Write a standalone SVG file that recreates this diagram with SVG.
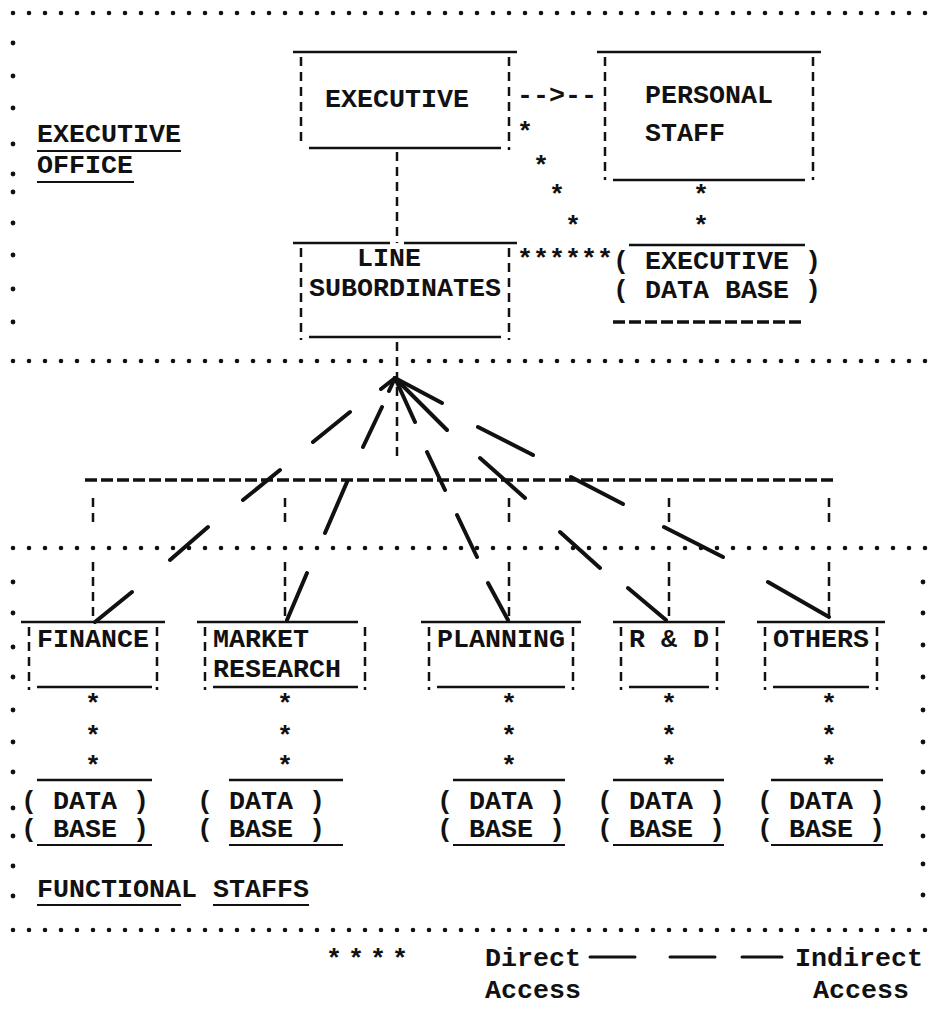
<svg xmlns="http://www.w3.org/2000/svg" width="933" height="1029" viewBox="0 0 933 1029">
<style>
.t{font-family:"Liberation Mono","DejaVu Sans Mono",monospace;font-size:26.67px;font-weight:bold;fill:#111}
.ln{stroke:#111;stroke-width:2.5;fill:none}
.ul{stroke:#111;stroke-width:2;fill:none}
.side{stroke:#111;stroke-width:2.5;stroke-dasharray:9 6;fill:none}
.dots{stroke:#111;stroke-width:4.6;stroke-linecap:round;stroke-dasharray:0 16;fill:none}
.hd{stroke:#111;stroke-width:3.5;stroke-dasharray:12 4;fill:none}
.fan{stroke:#111;stroke-width:4;stroke-linecap:round;fill:none}
.dot{fill:#111}
</style>
<rect width="933" height="1029" fill="#fff"/>

<g id="borders">
<line class="dots" x1="13" y1="13" x2="926" y2="13"/>
<line class="dots" x1="13" y1="361" x2="382" y2="361"/>
<line class="dots" x1="413" y1="361" x2="926" y2="361"/>
<line class="dots" x1="13" y1="548" x2="926" y2="548"/>
<line class="dots" x1="13" y1="930" x2="926" y2="930"/>
<g class="dot">
<circle cx="13" cy="43" r="2.4"/><circle cx="13" cy="76" r="2.4"/><circle cx="13" cy="108" r="2.4"/>
<circle cx="13" cy="144" r="2.4"/><circle cx="13" cy="174" r="2.4"/>
<circle cx="13" cy="192" r="2.4"/><circle cx="13" cy="223" r="2.4"/><circle cx="13" cy="255" r="2.4"/>
<circle cx="13" cy="289" r="2.4"/><circle cx="13" cy="322" r="2.4"/>
<circle cx="13" cy="582" r="2.4"/><circle cx="13" cy="613" r="2.4"/><circle cx="13" cy="647" r="2.4"/>
<circle cx="13" cy="677" r="2.4"/><circle cx="13" cy="710" r="2.4"/><circle cx="13" cy="742" r="2.4"/>
<circle cx="13" cy="772" r="2.4"/><circle cx="13" cy="808" r="2.4"/><circle cx="13" cy="836" r="2.4"/>
<circle cx="13" cy="866" r="2.4"/><circle cx="13" cy="896" r="2.4"/>
<circle cx="923" cy="582" r="2.4"/><circle cx="923" cy="613" r="2.4"/><circle cx="923" cy="645" r="2.4"/>
<circle cx="923" cy="677" r="2.4"/><circle cx="923" cy="710" r="2.4"/><circle cx="923" cy="742" r="2.4"/>
<circle cx="923" cy="772" r="2.4"/><circle cx="923" cy="808" r="2.4"/><circle cx="923" cy="836" r="2.4"/>
<circle cx="923" cy="864" r="2.4"/><circle cx="923" cy="895" r="2.4"/>
</g>
</g>

<g id="label-executive-office">
<text class="t" x="37" y="142">EXECUTIVE</text>
<line class="ul" x1="37" y1="151" x2="181" y2="151"/>
<text class="t" x="37" y="173">OFFICE</text>
<line class="ul" x1="37" y1="182" x2="134" y2="182"/>
</g>

<g id="executive">
<line class="ln" x1="293" y1="52" x2="517" y2="52"/>
<line class="side" x1="301" y1="57" x2="301" y2="146"/>
<line class="side" x1="509" y1="57" x2="509" y2="150"/>
<line class="ln" x1="309" y1="148" x2="501" y2="148"/>
<text class="t" x="325" y="107">EXECUTIVE</text>
</g>

<g id="personal-staff">
<line class="ln" x1="597" y1="52" x2="821" y2="52"/>
<line class="side" x1="605" y1="57" x2="605" y2="180"/>
<line class="side" x1="813" y1="57" x2="813" y2="180"/>
<line class="ln" x1="613" y1="180" x2="805" y2="180"/>
<text class="t" x="645" y="103">PERSONAL</text>
<text class="t" x="645" y="141">STAFF</text>
</g>

<g id="line-subordinates">
<line class="ln" x1="293" y1="243" x2="390" y2="243"/>
<line class="ln" x1="404" y1="243" x2="517" y2="243"/>
<line class="side" x1="301" y1="248" x2="301" y2="340"/>
<line class="side" x1="509" y1="248" x2="509" y2="340"/>
<line class="ln" x1="309" y1="337" x2="501" y2="337"/>
<text class="t" x="357" y="266">LINE</text>
<text class="t" x="309" y="296">SUBORDINATES</text>
</g>

<g id="executive-data-base">
<line class="ln" x1="629" y1="245" x2="805" y2="245"/>
<text class="t" x="613" y="269">( EXECUTIVE )</text>
<text class="t" x="613" y="298">( DATA BASE )</text>
<line class="hd" x1="613" y1="322" x2="805" y2="322"/>
</g>

<g id="finance">
<line class="ln" x1="21" y1="622" x2="165" y2="622"/>
<line class="side" x1="29" y1="627" x2="29" y2="690"/>
<line class="side" x1="157" y1="627" x2="157" y2="690"/>
<line class="ln" x1="37" y1="687" x2="152" y2="687"/>
<text class="t" x="37" y="647">FINANCE</text>
</g>
<g id="market-research">
<line class="ln" x1="197" y1="622" x2="358" y2="622"/>
<line class="side" x1="205" y1="627" x2="205" y2="690"/>
<line class="side" x1="365" y1="627" x2="365" y2="690"/>
<line class="ln" x1="213" y1="687" x2="358" y2="687"/>
<text class="t" x="213" y="647">MARKET</text>
<text class="t" x="213" y="677">RESEARCH</text>
</g>
<g id="planning">
<line class="ln" x1="421" y1="622" x2="581" y2="622"/>
<line class="side" x1="429" y1="627" x2="429" y2="690"/>
<line class="side" x1="573" y1="627" x2="573" y2="690"/>
<line class="ln" x1="437" y1="687" x2="565" y2="687"/>
<text class="t" x="437" y="647">PLANNING</text>
</g>
<g id="r-and-d">
<line class="ln" x1="613" y1="622" x2="725" y2="622"/>
<line class="side" x1="621" y1="627" x2="621" y2="690"/>
<line class="side" x1="717" y1="627" x2="717" y2="690"/>
<line class="ln" x1="629" y1="687" x2="709" y2="687"/>
<text class="t" x="629" y="647">R &amp; D</text>
</g>
<g id="others">
<line class="ln" x1="757" y1="622" x2="885" y2="622"/>
<line class="side" x1="765" y1="627" x2="765" y2="690"/>
<line class="side" x1="877" y1="627" x2="877" y2="690"/>
<line class="ln" x1="773" y1="687" x2="869" y2="687"/>
<text class="t" x="773" y="647">OTHERS</text>
</g>

<g id="finance-data-base">
<line class="ln" x1="37" y1="780" x2="152" y2="780"/>
<text class="t" x="21" y="809">( DATA  )</text>
<text class="t" x="21" y="837">( BASE  )</text>
<line class="ul" x1="37" y1="845" x2="152" y2="845"/>
</g>
<g id="market-data-base">
<line class="ln" x1="229" y1="780" x2="343" y2="780"/>
<text class="t" x="197" y="809">( DATA   )</text>
<text class="t" x="197" y="837">( BASE   )</text>
<line class="ul" x1="229" y1="845" x2="343" y2="845"/>
</g>
<g id="planning-data-base">
<line class="ln" x1="453" y1="780" x2="565" y2="780"/>
<text class="t" x="437" y="809">( DATA )</text>
<text class="t" x="437" y="837">( BASE )</text>
<line class="ul" x1="453" y1="845" x2="565" y2="845"/>
</g>
<g id="r-and-d-data-base">
<line class="ln" x1="613" y1="780" x2="724" y2="780"/>
<text class="t" x="597" y="809">( DATA )</text>
<text class="t" x="597" y="837">( BASE )</text>
<line class="ul" x1="613" y1="845" x2="724" y2="845"/>
</g>
<g id="others-data-base">
<line class="ln" x1="771" y1="780" x2="883" y2="780"/>
<text class="t" x="757" y="809">( DATA )</text>
<text class="t" x="757" y="837">( BASE )</text>
<line class="ul" x1="771" y1="845" x2="883" y2="845"/>
</g>

<g id="label-functional-staffs">
<text class="t" x="37" y="897">FUNCTIONAL STAFFS</text>
<line class="ul" x1="37" y1="905" x2="181" y2="905"/>
<line class="ul" x1="213" y1="905" x2="309" y2="905"/>
</g>

<g id="connectors">
<text class="t" x="517" y="103">--&gt;--</text>
<g class="t">
<text x="517" y="140">*</text><text x="533" y="174">*</text><text x="549" y="203">*</text><text x="565" y="234">*</text>
<text x="693" y="203">*</text><text x="693" y="234">*</text>
<text x="517" y="267">******</text>
<text x="85" y="712">*</text><text x="85" y="744">*</text><text x="85" y="774">*</text>
<text x="277" y="712">*</text><text x="277" y="744">*</text><text x="277" y="774">*</text>
<text x="501" y="712">*</text><text x="501" y="744">*</text><text x="501" y="774">*</text>
<text x="661" y="712">*</text><text x="661" y="744">*</text><text x="661" y="774">*</text>
<text x="821" y="712">*</text><text x="821" y="744">*</text><text x="821" y="774">*</text>
</g>
<line class="side" x1="397" y1="152" x2="397" y2="243"/>
<line class="side" x1="397" y1="342" x2="397" y2="458"/>
<line class="hd" x1="85" y1="480" x2="837" y2="480"/>
<path class="side" d="M93 498V526M93 562V620M285 498V526M285 562V620M509 498V526M509 562V620M669 498V526M669 562V620M829 498V526M829 562V620"/>
<path class="fan" d="M395 378L381 389M350 412L313 442M280 470L243 500M208 527L170 560M132 592L95 622"/>
<path class="fan" d="M395 378L389 391M382 407L363 447M347 482L325 533M307 573L287 620"/>
<path class="fan" d="M395 378L415 422M427 452L445 490M457 515L477 557M488 583L508 620"/>
<path class="fan" d="M395 378L447 430M480 458L525 498M560 532L600 568M628 588L666 620"/>
<path class="fan" d="M395 378L442 403M478 427L533 455M571 477L623 504M664 527L723 557M768 582L829 617"/>
</g>

<g id="legend">
<g class="t">
<text x="326" y="967">*</text><text x="348" y="967">*</text><text x="370" y="967">*</text><text x="392" y="967">*</text>
</g>
<text class="t" x="485" y="966">Direct</text>
<text class="t" x="485" y="998">Access</text>
<path class="fan" style="stroke-width:3" d="M590 957H635M670 957H715M742 957H782"/>
<text class="t" x="795" y="966">Indirect</text>
<text class="t" x="813" y="998">Access</text>
</g>
</svg>
